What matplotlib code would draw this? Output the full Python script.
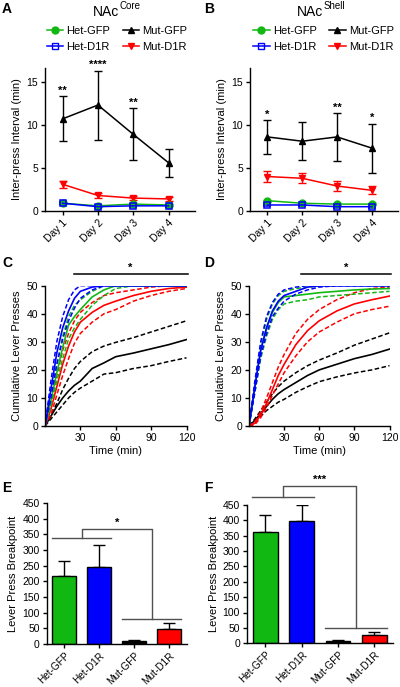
import matplotlib
matplotlib.use('Agg')
import matplotlib.pyplot as plt
from matplotlib.lines import Line2D

plt.rcParams['font.family'] = ['Liberation Sans', 'DejaVu Sans']
plt.rcParams['font.size'] = 7.5

GREEN = '#12b812'
BLUE = '#0000ff'
RED = '#ff0000'
BLACK = '#000000'

days = ['Day 1', 'Day 2', 'Day 3', 'Day 4']
groups = ['Het-GFP', 'Het-D1R', 'Mut-GFP', 'Mut-D1R']

# ---- Panel A (NAc Core): inter-press interval (min)
a_het_gfp = [0.9, 0.6, 0.8, 0.7]
a_het_gfp_err = [0.1, 0.1, 0.1, 0.1]
a_het_d1r = [0.9, 0.5, 0.6, 0.6]
a_het_d1r_err = [0.1, 0.1, 0.1, 0.1]
a_mut_gfp = [10.7, 12.3, 8.9, 5.6]
a_mut_gfp_err = [2.6, 4.0, 3.0, 1.6]
a_mut_d1r = [3.1, 1.8, 1.5, 1.4]
a_mut_d1r_err = [0.4, 0.3, 0.2, 0.2]
a_stars = ['**', '****', '**', '']

# ---- Panel B (NAc Shell)
b_het_gfp = [1.2, 0.9, 0.8, 0.8]
b_het_gfp_err = [0.1, 0.1, 0.1, 0.1]
b_het_d1r = [0.7, 0.7, 0.5, 0.5]
b_het_d1r_err = [0.1, 0.1, 0.1, 0.1]
b_mut_gfp = [8.6, 8.1, 8.6, 7.3]
b_mut_gfp_err = [1.95, 2.2, 2.75, 2.85]
b_mut_d1r = [4.0, 3.8, 2.9, 2.4]
b_mut_d1r_err = [0.6, 0.6, 0.6, 0.45]
b_stars = ['*', '', '**', '*']

# ---- Panels C/D: cumulative lever presses
time_min = [0, 5, 10, 15, 20, 25, 30, 40, 50, 60, 75, 90, 105, 120]

c_het_gfp = [0, 9, 19, 28, 36, 39, 41.5, 46, 48.5, 50, 50, 50, 50, 50]
c_het_gfp_hi = [0, 11, 22, 32, 39, 43, 45, 48, 50, 50, 50, 50, 50, 50]
c_het_gfp_lo = [0, 7, 16, 24, 31, 35, 38, 43, 46.5, 49, 50, 50, 50, 50]
c_het_d1r = [0, 13, 26, 35, 41, 45.5, 48, 49.5, 50, 50, 50, 50, 50, 50]
c_het_d1r_hi = [0, 16, 30, 39, 45, 48.5, 50, 50, 50, 50, 50, 50, 50, 50]
c_het_d1r_lo = [0, 10, 22, 31, 37.5, 42, 45.5, 48.5, 50, 50, 50, 50, 50, 50]
c_mut_gfp = [0, 3.5, 7, 10, 12.5, 14.5, 16, 20.5, 22.5, 24.7, 26, 27.5, 29, 30.8]
c_mut_gfp_hi = [0, 4, 8, 13, 17, 20.5, 23, 26.5, 28.5, 29.8, 31.5, 33.5, 35.5, 37.5]
c_mut_gfp_lo = [0, 2.5, 5, 7.5, 10, 12, 13.5, 16, 18.5, 19, 20.5, 21.5, 23, 24.3]
c_mut_d1r = [0, 6, 14, 22, 28.5, 33.5, 37, 40.5, 43, 44.5, 46.5, 48, 49, 49.5]
c_mut_d1r_hi = [0, 8, 18, 27, 33, 37.5, 40.5, 44, 46.5, 47.5, 48.5, 49.5, 50, 50]
c_mut_d1r_lo = [0, 4, 11, 18, 24, 29.5, 33, 37, 40, 41.5, 44.5, 46.5, 48, 49]

d_het_gfp = [0, 14, 27, 35, 40.5, 44, 46, 46.5, 47, 47.5, 48, 48.5, 48.8, 49]
d_het_gfp_hi = [0, 15, 29, 38, 43.5, 46.5, 48, 49, 49.5, 49.8, 50, 50, 50, 50]
d_het_gfp_lo = [0, 12, 24, 32, 38, 41.5, 43.5, 44.5, 45, 46, 46.5, 47, 47.5, 48]
d_het_d1r = [0, 14, 27, 35, 41, 44.5, 46.5, 48, 49.5, 50, 50, 50, 50, 50]
d_het_d1r_hi = [0, 16, 30, 39, 44, 47, 48.5, 49.5, 50, 50, 50, 50, 50, 50]
d_het_d1r_lo = [0, 12, 25, 33, 39, 42, 44.5, 47, 48.5, 49.5, 50, 50, 50, 50]
d_mut_gfp = [0, 2, 4.5, 7, 9.5, 11.5, 13, 15.5, 18, 20, 22, 24, 25.5, 27.4]
d_mut_gfp_hi = [0, 2.5, 5.5, 8.5, 11.5, 14, 16, 19, 21.5, 23.5, 26, 28.8, 31, 33.2]
d_mut_gfp_lo = [0, 1.5, 3.5, 5.5, 7, 8.5, 9.5, 12, 14, 15.8, 17.5, 18.9, 20, 21.5]
d_mut_d1r = [0, 1, 4, 8, 13, 18, 22, 29, 34, 37.5, 41, 43.5, 45, 46.3]
d_mut_d1r_hi = [0, 1.5, 5, 10, 15.5, 21, 25.5, 33, 38, 41.5, 45, 47.5, 49, 49.5]
d_mut_d1r_lo = [0, 0.5, 3, 6.5, 11, 15, 19, 25, 30, 33.5, 37, 40, 41.5, 42.7]

# ---- Panels E/F: breakpoint
e_vals = [216, 245, 8, 48]
e_err = [48, 71, 6, 18]
f_vals = [360, 398, 7, 27]
f_err = [58, 50, 3, 9]
bar_colors = [GREEN, BLUE, BLACK, RED]

W, H = 400, 687
fig = plt.figure(figsize=(W / 100, H / 100), dpi=100)

TICK_FS = 7.5
LABEL_FS = 8


def rect(x0, x1, ytop, ybot):
    return [x0 / W, 1 - ybot / H, (x1 - x0) / W, (ybot - ytop) / H]


def style(ax):
    for s in ['top', 'right']:
        ax.spines[s].set_visible(False)
    for s in ['left', 'bottom']:
        ax.spines[s].set_linewidth(1.0)
    ax.tick_params(width=1.0, length=3, labelsize=TICK_FS, pad=2)


def line_panel(ax, hg, hge, hd, hde, mg, mge, md, mde, stars):
    x = [1, 2, 3, 4]
    kw = dict(capsize=3, elinewidth=1, capthick=1, lw=1.1, markersize=5)
    ax.errorbar(x, mg, yerr=mge, color=BLACK, marker='^', **kw)
    ax.errorbar(x, md, yerr=mde, color=RED, marker='v', **kw)
    ax.errorbar(x, hg, yerr=hge, color=GREEN, marker='o', **kw)
    ax.errorbar(x, hd, yerr=hde, color=BLUE, marker='s', mfc='none', mew=1.1, **kw)
    for xi, m, e, s in zip(x, mg, mge, stars):
        if s:
            ax.text(xi, m + e + 0.05, s, ha='center', va='bottom', fontsize=8,
                    fontweight='bold')
    ax.set_xlim(0.5, 4.75)
    ax.set_ylim(0, 16.6)
    ax.set_yticks([0, 5, 10, 15])
    ax.set_xticks(x)
    ax.set_xticklabels(days, rotation=45, ha='right', rotation_mode='anchor')
    ax.set_ylabel('Inter-press Interval (min)', fontsize=LABEL_FS, labelpad=3)
    style(ax)


def legend(fig, x, y):
    handles = [
        Line2D([], [], color=GREEN, marker='o', lw=1.1, ms=5),
        Line2D([], [], color=BLUE, marker='s', mfc='none', lw=1.1, ms=5),
        Line2D([], [], color=BLACK, marker='^', lw=1.1, ms=5),
        Line2D([], [], color=RED, marker='v', lw=1.1, ms=5),
    ]
    fig.legend(handles, ['Het-GFP', 'Het-D1R', 'Mut-GFP', 'Mut-D1R'], ncol=2,
               loc='upper left', bbox_to_anchor=(x / W, 1 - y / H), frameon=False,
               fontsize=8, handlelength=1.5, handletextpad=0.3, columnspacing=1.1,
               labelspacing=0.5, borderpad=0, borderaxespad=0)


def cum_panel(ax, series, star_x0, star_x):
    for mean, hi, lo, c in series:
        ax.plot(time_min, hi, color=c, lw=1.1, ls=(0, (3, 1.6)))
        ax.plot(time_min, lo, color=c, lw=1.1, ls=(0, (3, 1.6)))
        ax.plot(time_min, mean, color=c, lw=1.2)
    ax.set_xlim(0, 120)
    ax.set_ylim(0, 50)
    ax.set_xticks([30, 60, 90, 120])
    ax.set_yticks([0, 10, 20, 30, 40, 50])
    ax.set_xlabel('Time (min)', fontsize=LABEL_FS, labelpad=2)
    ax.set_ylabel('Cumulative Lever Presses', fontsize=LABEL_FS, labelpad=3)
    ax.plot([star_x0, 121], [54.1, 54.1], color='black', lw=1.1, clip_on=False)
    ax.text(star_x, 54.6, '*', ha='center', va='bottom', fontsize=8, fontweight='bold')
    style(ax)


def bar_panel(ax, vals, errs, ybr_low, ybr_hi, ybr_top, stars, star_y):
    x = [0, 1, 2, 3]
    ax.bar(x, vals, width=0.68, color=bar_colors, edgecolor='black', lw=1.0, zorder=2)
    ax.errorbar(x, vals, yerr=[[0] * 4, errs], fmt='none', ecolor='black',
                capsize=4, elinewidth=1, capthick=1, zorder=1)
    ax.set_xlim(-0.5, 3.5)
    ax.set_ylim(0, 450)
    ax.set_yticks(range(0, 451, 50))
    ax.set_xticks(x)
    ax.set_xticklabels(groups, rotation=45, ha='right', rotation_mode='anchor')
    ax.set_ylabel('Lever Press Breakpoint', fontsize=LABEL_FS, labelpad=3)
    gc = '#505050'
    kw = dict(color=gc, lw=1.0, clip_on=False)
    ax.plot([-0.35, 1.35], [ybr_hi, ybr_hi], **kw)
    ax.plot([0.5, 0.5, 2.5, 2.5], [ybr_hi, ybr_top, ybr_top, ybr_low], **kw)
    ax.plot([1.65, 3.35], [ybr_low, ybr_low], **kw)
    ax.text(1.5, star_y, stars, ha='center', va='bottom', fontsize=8, fontweight='bold')
    style(ax)
    ax.tick_params(axis='x', labelsize=7.2, pad=1.5)


# Panel A
axA = fig.add_axes(rect(45, 195, 68, 211))
line_panel(axA, a_het_gfp, a_het_gfp_err, a_het_d1r, a_het_d1r_err,
           a_mut_gfp, a_mut_gfp_err, a_mut_d1r, a_mut_d1r_err, a_stars)
legend(fig, 46.5, 26)

# Panel B
axB = fig.add_axes(rect(250, 398, 68, 211))
line_panel(axB, b_het_gfp, b_het_gfp_err, b_het_d1r, b_het_d1r_err,
           b_mut_gfp, b_mut_gfp_err, b_mut_d1r, b_mut_d1r_err, b_stars)
legend(fig, 253, 26)

# Titles
fig.text(92.5 / W, 1 - 16 / H, 'NAc', fontsize=10, ha='left', va='baseline')
fig.text(120 / W, 1 - 9 / H, 'Core', fontsize=7, ha='left', va='baseline')
fig.text(297 / W, 1 - 16 / H, 'NAc', fontsize=10, ha='left', va='baseline')
fig.text(324 / W, 1 - 9 / H, 'Shell', fontsize=7, ha='left', va='baseline')

# Panel C
axC = fig.add_axes(rect(45, 186.5, 285.7, 426))
cum_panel(axC, [
    (c_mut_gfp, c_mut_gfp_hi, c_mut_gfp_lo, BLACK),
    (c_mut_d1r, c_mut_d1r_hi, c_mut_d1r_lo, RED),
    (c_het_gfp, c_het_gfp_hi, c_het_gfp_lo, GREEN),
    (c_het_d1r, c_het_d1r_hi, c_het_d1r_lo, BLUE),
], 24.7, 72)

# Panel D
axD = fig.add_axes(rect(249, 389.5, 285.7, 426))
cum_panel(axD, [
    (d_mut_gfp, d_mut_gfp_hi, d_mut_gfp_lo, BLACK),
    (d_mut_d1r, d_mut_d1r_hi, d_mut_d1r_lo, RED),
    (d_het_gfp, d_het_gfp_hi, d_het_gfp_lo, GREEN),
    (d_het_d1r, d_het_d1r_hi, d_het_d1r_lo, BLUE),
], 44.5, 83)

# Panel E
axE = fig.add_axes(rect(46.7, 186.7, 503, 644))
bar_panel(axE, e_vals, e_err, 80, 337, 367, '*', 370)

# Panel F
axF = fig.add_axes(rect(247, 392.7, 504.7, 643.3))
bar_panel(axF, f_vals, f_err, 50, 476, 512, '***', 515)

# Panel letters
for lbl, x, y in [('A', 2, 13), ('B', 204, 13), ('C', 2, 267), ('D', 204, 267),
                  ('E', 2, 492), ('F', 204, 492)]:
    fig.text(x / W, 1 - y / H, lbl, fontsize=10, fontweight='bold', ha='left',
             va='baseline')

fig.savefig('out.png', dpi=100)
